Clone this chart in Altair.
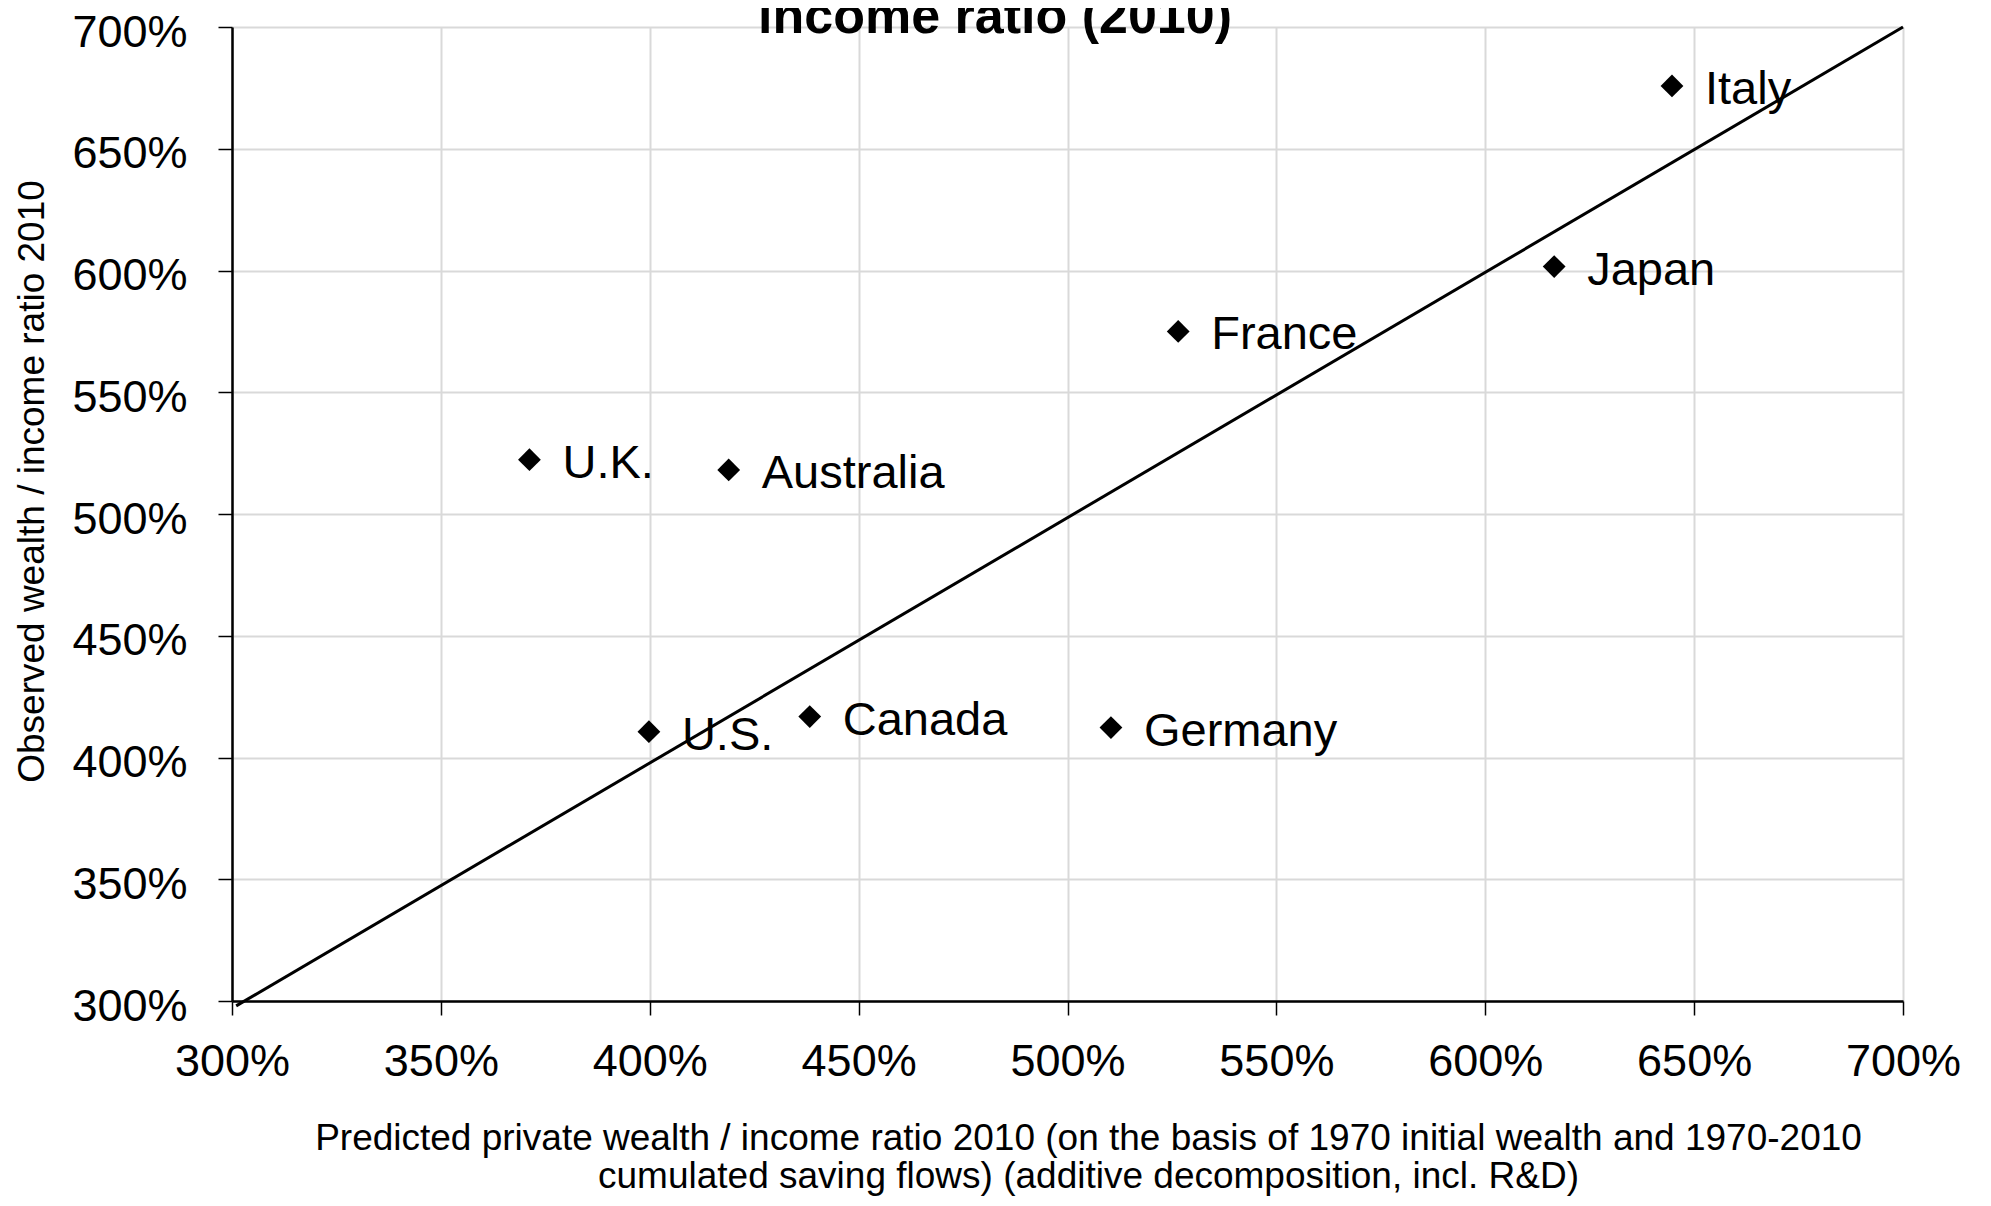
import altair as alt
import pandas as pd

countries = ["U.S.", "Canada", "Germany", "France", "U.K.", "Australia", "Japan", "Italy"]
predicted_pct = [399.8, 438.3, 510.4, 526.5, 371.2, 418.9, 616.5, 644.7]
observed_pct = [410.6, 416.8, 412.3, 575.0, 522.3, 518.1, 601.6, 675.8]

diag_x_pct = [301, 700]
diag_y_pct = [298, 700]

tick_pct = [300, 350, 400, 450, 500, 550, 600, 650, 700]

title_text = "income ratio (2010)"
x_title = ["Predicted private wealth / income ratio 2010 (on the basis of 1970 initial wealth and 1970-2010",
           "cumulated saving flows) (additive decomposition, incl. R&D)"]
y_title = "Observed wealth / income ratio 2010"

FONT = "Liberation Sans"

pts = pd.DataFrame({
    "country": countries,
    "predicted": [v / 100 for v in predicted_pct],
    "observed": [v / 100 for v in observed_pct],
})
diag = pd.DataFrame({
    "predicted": [v / 100 for v in diag_x_pct],
    "observed": [v / 100 for v in diag_y_pct],
})
title_df = pd.DataFrame({"t": [title_text]})
ticks = [v / 100 for v in tick_pct]

xscale = alt.Scale(domain=[3, 7], nice=False, zero=False)
yscale = alt.Scale(domain=[3, 7], nice=False, zero=False)

xaxis = alt.Axis(
    values=ticks, format=".0%", title=x_title,
    labelFontSize=45, labelPadding=24, tickSize=14, tickWidth=1.5,
    labelFlush=False, labelOverlap=False, labelBound=False,
    titleFontSize=37, titleFontWeight="normal", titleLineHeight=38,
    titleX=856, titleY=148, titleBaseline="alphabetic", titleAlign="center",
)
yaxis = alt.Axis(
    values=ticks, format=".0%", title=y_title,
    labelFontSize=45, labelPadding=31, tickSize=14, tickWidth=1.5, labelOffset=5,
    labelFlush=False, labelOverlap=False, labelBound=False,
    titleFontSize=37, titleFontWeight="normal",
    titleAngle=270, titleX=-189, titleY=454, titleBaseline="alphabetic", titleAlign="center",
)

base_x = alt.X("predicted:Q", scale=xscale, axis=xaxis)
base_y = alt.Y("observed:Q", scale=yscale, axis=yaxis)

line = alt.Chart(diag).mark_line(color="black", strokeWidth=3, clip=False).encode(
    x=base_x, y=base_y
)

points = alt.Chart(pts).mark_point(shape="diamond", filled=True, color="black", size=520, opacity=1).encode(
    x=alt.X("predicted:Q", scale=xscale),
    y=alt.Y("observed:Q", scale=yscale),
)

labels = alt.Chart(pts).mark_text(
    align="left", baseline="alphabetic", dx=33, dy=18, fontSize=47, font=FONT, color="black"
).encode(
    x=alt.X("predicted:Q", scale=xscale),
    y=alt.Y("observed:Q", scale=yscale),
    text="country:N",
)

title = alt.Chart(title_df).mark_text(
    align="center", baseline="alphabetic", fontSize=52, fontWeight="bold", font=FONT, color="black"
).encode(
    x=alt.value(763),
    y=alt.value(6),
    text="t:N",
)

chart = alt.layer(line, points, labels, title).properties(
    width=1671,
    height=974,
    autosize=alt.AutoSizeParams(type="none"),
    padding={"left": 224, "top": 19, "right": 62, "bottom": 197},
).configure(
    font=FONT,
    background="white",
).configure_view(
    stroke=None,
).configure_axis(
    labelFont=FONT, titleFont=FONT, labelColor="black", titleColor="black",
    domainColor="black", domainWidth=2.5, tickColor="black",
    gridColor="#d9d9d9", gridWidth=2, grid=True,
)

chart.save("out.html", embed_options={"renderer": "svg", "actions": False})
